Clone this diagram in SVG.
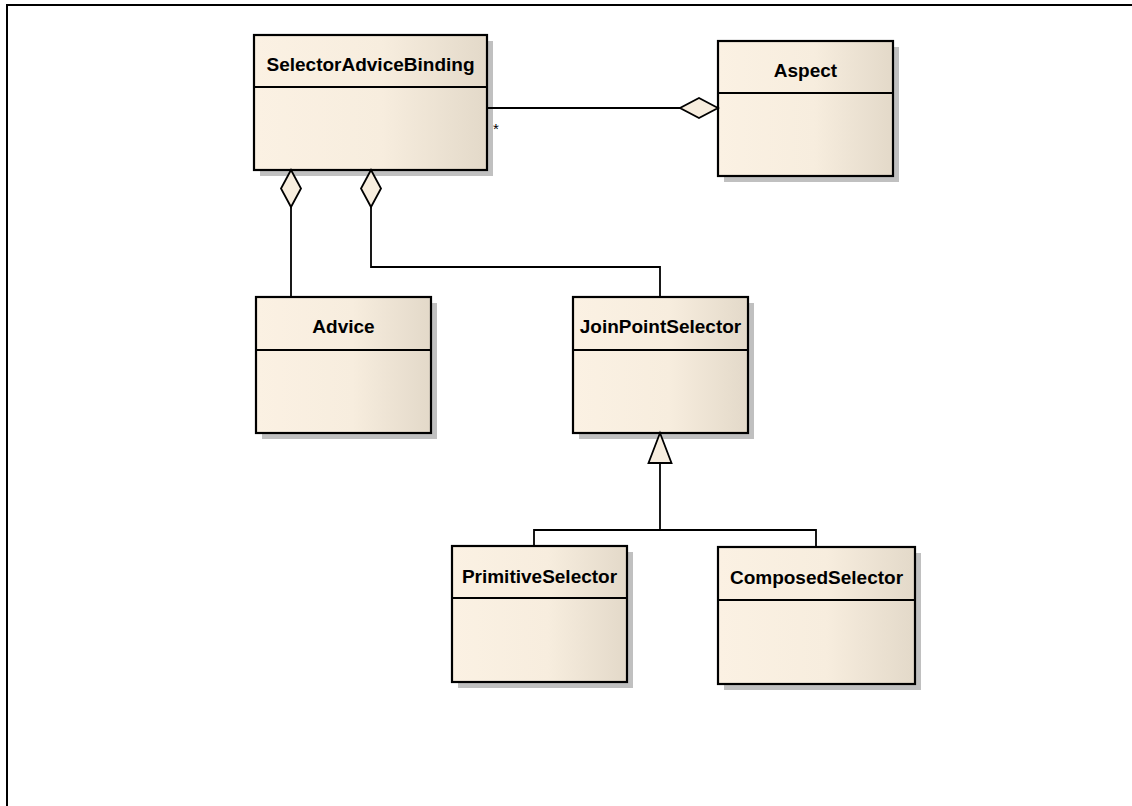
<svg xmlns="http://www.w3.org/2000/svg" width="1132" height="806" viewBox="0 0 1132 806">
<defs>
<linearGradient id="fill" x1="0" y1="0" x2="1" y2="0">
<stop offset="0" stop-color="#FBF1E3"/>
<stop offset="0.55" stop-color="#F7EDDE"/>
<stop offset="1" stop-color="#E3D9C9"/>
</linearGradient>
</defs>
<style>
.shadow{fill:#C0C0C0;stroke:none}
.box{fill:url(#fill);stroke:#000;stroke-width:2.2}
.div{stroke:#000;stroke-width:1.8;fill:none}
.name{font-family:"Liberation Sans",Arial,sans-serif;font-weight:bold;font-size:19px;fill:#000;text-anchor:middle}
.conn{fill:none;stroke:#000;stroke-width:1.8}
.head{fill:#F7EDDE;stroke:#000;stroke-width:1.8;stroke-linejoin:miter}
.mult{font-family:"Liberation Sans",Arial,sans-serif;font-size:15px;fill:#000}
</style>
<rect width="1132" height="806" fill="#fff"/>
<path d="M7,806 V5 H1132" fill="none" stroke="#000" stroke-width="2"/>

<g id="SelectorAdviceBinding">
<rect class="shadow" x="260" y="41" width="233" height="135"/>
<rect class="box" x="254" y="35" width="233" height="135"/>
<line class="div" x1="254" y1="87" x2="487" y2="87"/>
<text class="name" x="370.5" y="71">SelectorAdviceBinding</text>
</g>

<g id="Aspect">
<rect class="shadow" x="724" y="47" width="175" height="135"/>
<rect class="box" x="718" y="41" width="175" height="135"/>
<line class="div" x1="718" y1="93" x2="893" y2="93"/>
<text class="name" x="805.5" y="77">Aspect</text>
</g>

<g id="Advice">
<rect class="shadow" x="262" y="303" width="175" height="136"/>
<rect class="box" x="256" y="297" width="175" height="136"/>
<line class="div" x1="256" y1="350" x2="431" y2="350"/>
<text class="name" x="343.5" y="333">Advice</text>
</g>

<g id="JoinPointSelector">
<rect class="shadow" x="579" y="303" width="175" height="136"/>
<rect class="box" x="573" y="297" width="175" height="136"/>
<line class="div" x1="573" y1="350" x2="748" y2="350"/>
<text class="name" x="660.5" y="333">JoinPointSelector</text>
</g>

<g id="PrimitiveSelector">
<rect class="shadow" x="458" y="552" width="175" height="136"/>
<rect class="box" x="452" y="546" width="175" height="136"/>
<line class="div" x1="452" y1="598" x2="627" y2="598"/>
<text class="name" x="539.5" y="582.5">PrimitiveSelector</text>
</g>

<g id="ComposedSelector">
<rect class="shadow" x="724" y="553" width="197" height="137"/>
<rect class="box" x="718" y="547" width="197" height="137"/>
<line class="div" x1="718" y1="600" x2="915" y2="600"/>
<text class="name" x="816.5" y="583.5">ComposedSelector</text>
</g>

<g id="connectors">
<line class="conn" x1="487" y1="108" x2="680" y2="108"/>
<polygon class="head" points="718,108 699,98 680,108 699,118"/>
<text class="mult" x="493" y="134">*</text>

<line class="conn" x1="291" y1="207" x2="291" y2="297"/>
<polygon class="head" points="291,170 301,188.5 291,207 281,188.5"/>

<polyline class="conn" points="371,207 371,267 660,267 660,297"/>
<polygon class="head" points="371,170 381,188.5 371,207 361,188.5"/>

<polyline class="conn" points="660,463 660,530"/>
<polyline class="conn" points="534,546 534,530 816,530 816,547"/>
<polygon class="head" points="660,433 671.5,463 648.5,463"/>
</g>
</svg>
